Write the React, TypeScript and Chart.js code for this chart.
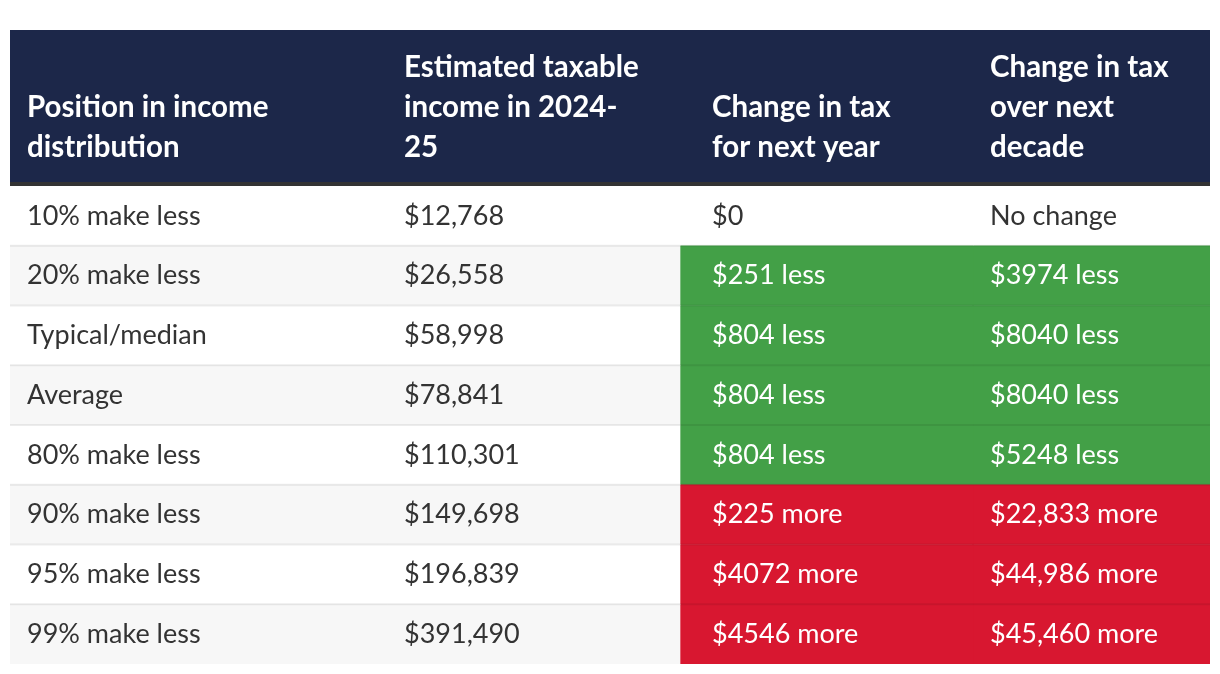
import React, { useEffect, useRef } from "react";
import { Chart, registerables } from "chart.js";

Chart.register(...registerables);

// ---- data ----
const positions = [
  "10% make less",
  "20% make less",
  "Typical/median",
  "Average",
  "80% make less",
  "90% make less",
  "95% make less",
  "99% make less",
];
const incomes = ["$12,768", "$26,558", "$58,998", "$78,841", "$110,301", "$149,698", "$196,839", "$391,490"];
const changeNextYear = ["$0", "$251 less", "$804 less", "$804 less", "$804 less", "$225 more", "$4072 more", "$4546 more"];
const changeNextDecade = [
  "No change",
  "$3974 less",
  "$8040 less",
  "$8040 less",
  "$5248 less",
  "$22,833 more",
  "$44,986 more",
  "$45,460 more",
];
const headers = [
  ["Position in income", "distribution"],
  ["Estimated taxable", "income in 2024-", "25"],
  ["Change in tax", "for next year"],
  ["Change in tax", "over next", "decade"],
];

// ---- layout / style ----
const COL_EDGES = [0, 377, 670, 963, 1200];
const COL_PAD = [17, 17, 32, 17];
const NAVY = "#1c2749";
const GREEN = "#43a047";
const RED = "#d81730";
const ROW_ALT = "#f7f7f7";
const TEXT = "#333333";
const FONT = "Lato, 'Open Sans', sans-serif";
const BODY_SIZE = 27;
const HEAD_SIZE = 29.5;

const columns = [positions, incomes, changeNextYear, changeNextDecade];

function rowBg(i: number) {
  return i % 2 === 1 ? ROW_ALT : "#ffffff";
}
function cellBg(col: number, i: number) {
  const t = columns[col][i];
  if (col >= 2) {
    if (t.includes("less")) return GREEN;
    if (t.includes("more")) return RED;
  }
  return rowBg(i);
}

const tablePlugin = {
  id: "tablePlugin",
  beforeDraw(chart: any) {
    const { ctx, chartArea, scales } = chart;
    const x = scales.x;
    const top = 22;
    const headBottom = chartArea.top - 4;
    ctx.save();
    ctx.fillStyle = NAVY;
    ctx.fillRect(chartArea.left, top, chartArea.right - chartArea.left, headBottom - top);
    ctx.fillStyle = "#333333";
    ctx.fillRect(chartArea.left, headBottom, chartArea.right - chartArea.left, 4);
    ctx.fillStyle = "#ffffff";
    ctx.font = `bold ${HEAD_SIZE}px ${FONT}`;
    ctx.textBaseline = "middle";
    ctx.textAlign = "left";
    headers.forEach((lines, c) => {
      const tx = x.getPixelForValue(COL_EDGES[c]) + COL_PAD[c];
      const n = lines.length;
      lines.forEach((ln, k) => {
        const ty = headBottom - 35 - (n - 1 - k) * 40;
        ctx.fillText(ln, tx, ty);
      });
    });
    ctx.restore();
  },
  afterDatasetsDraw(chart: any) {
    const { ctx, chartArea, scales } = chart;
    const x = scales.x;
    const y = scales.y;
    ctx.save();
    // row separators
    for (let i = 1; i < positions.length; i++) {
      const yb = (y.getPixelForValue(i - 1) + y.getPixelForValue(i)) / 2;
      ctx.fillStyle = "rgba(0,0,0,0.075)";
      ctx.fillRect(chartArea.left, yb - 1, chartArea.right - chartArea.left, 2);
    }
    ctx.font = `${BODY_SIZE}px ${FONT}`;
    ctx.textBaseline = "middle";
    ctx.textAlign = "left";
    columns.forEach((col, c) => {
      const tx = x.getPixelForValue(COL_EDGES[c]) + COL_PAD[c];
      col.forEach((t, i) => {
        const bg = cellBg(c, i);
        ctx.fillStyle = bg === GREEN || bg === RED ? "#ffffff" : TEXT;
        ctx.fillText(t, tx, y.getPixelForValue(i));
      });
    });
    ctx.restore();
  },
};

export default function App() {
  const ref = useRef<HTMLCanvasElement>(null);
  useEffect(() => {
    const canvas = ref.current!;
    const datasets = columns.map((col, c) => ({
      label: `col${c}`,
      data: positions.map(() => [COL_EDGES[c], COL_EDGES[c + 1]]),
      backgroundColor: positions.map((_, i) => cellBg(c, i)),
      borderWidth: 0,
      barPercentage: 1,
      categoryPercentage: 1,
      grouped: false,
    }));
    const chart = new Chart(canvas, {
      type: "bar",
      data: { labels: positions, datasets: datasets as any },
      options: {
        indexAxis: "y",
        responsive: false,
        animation: false,
        layout: { padding: { left: 2, right: 2, top: 178, bottom: 2 } },
        plugins: { legend: { display: false }, tooltip: { enabled: false } },
        scales: {
          x: { type: "linear", min: 0, max: 1200, display: false },
          y: { type: "category", display: false, offset: true },
        },
      },
      plugins: [tablePlugin],
    });
    return () => chart.destroy();
  }, []);
  return (
    <div style={{ width: 1204, height: 658 }}>
      <canvas ref={ref} width={1204} height={658} style={{ display: "block" }} />
    </div>
  );
}
